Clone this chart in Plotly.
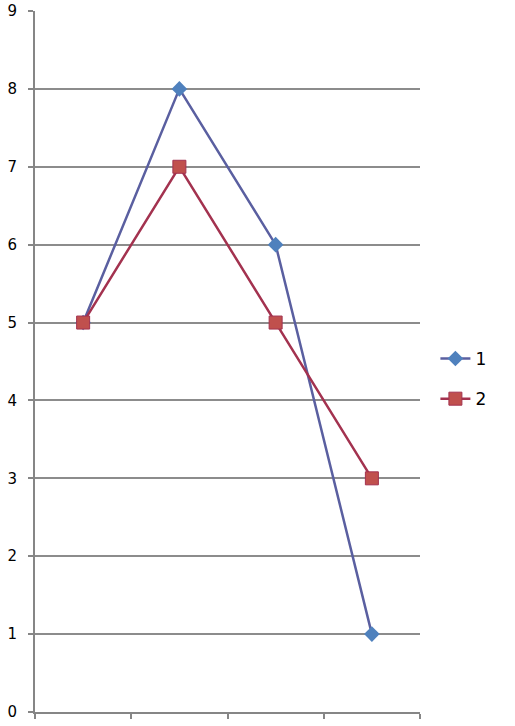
import plotly.graph_objects as go

categories = ["1", "2", "3", "4"]
series_1 = [5, 8, 6, 1]
series_2 = [5, 7, 5, 3]

fig = go.Figure()

fig.add_trace(go.Scatter(
    x=categories, y=series_1, name="1", legendgroup="a",
    mode="lines+markers",
    line=dict(color="#5a5fa0", width=2.5),
    marker=dict(symbol="diamond", size=12, color="#4f81bd", line=dict(width=0)),
))
fig.add_trace(go.Scatter(
    x=categories, y=series_2, name="2", legendgroup="b",
    mode="lines+markers",
    line=dict(color="#a3324f", width=2.5),
    marker=dict(symbol="square", size=13, color="#c0504d",
                line=dict(color="#a3324f", width=1)),
))

fig.update_layout(
    width=515, height=726,
    margin=dict(l=35, r=95, t=11, b=14),
    plot_bgcolor="white", paper_bgcolor="white",
    font=dict(family="DejaVu Sans", size=15, color="black"),
    legend=dict(x=1.04, y=0.475, yanchor="middle", xanchor="left",
                font=dict(size=17), tracegroupgap=15,
                itemwidth=30),
    xaxis=dict(type="category", range=[-0.5, 3.5], showticklabels=False,
               tickson="boundaries",
               ticks="outside", ticklen=5, tickcolor="#868686", tickwidth=1.5,
               showgrid=False, showline=True, linecolor="#868686", linewidth=2,
               zeroline=False, automargin=False),
    yaxis=dict(range=[0, 9], dtick=1, ticks="outside", ticklen=5,
               tickcolor="#868686", tickwidth=1.5, tickfont=dict(size=15),
               showgrid=True, gridcolor="#8c8c8c", gridwidth=1.5,
               showline=True, linecolor="#868686", linewidth=2,
               zeroline=False, ticklabelstandoff=8, automargin=False),
)

fig.write_html("out.html", config={"displayModeBar": False},
               post_script="document.body.style.margin='0';")
